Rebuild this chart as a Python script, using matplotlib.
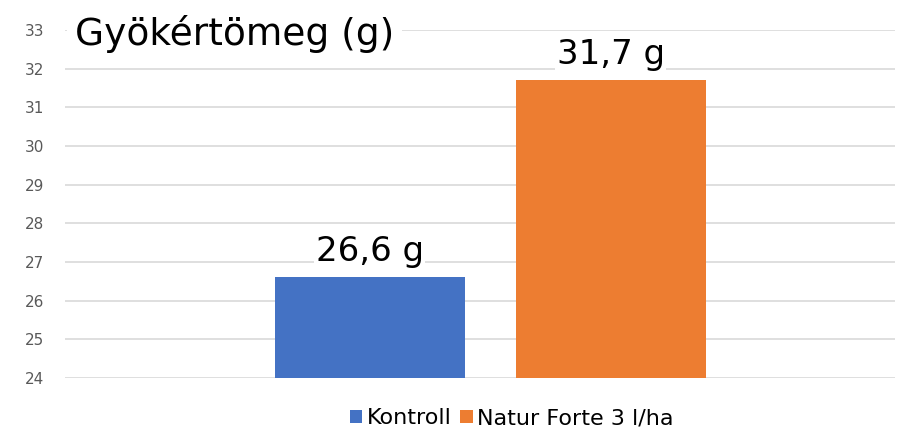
import numpy as np
import matplotlib
matplotlib.use('Agg')
import matplotlib.pyplot as plt
from matplotlib.patches import Patch

plt.rcParams['font.family'] = ['DejaVu Sans']

# Data
series = ['Kontroll', 'Natur Forte 3 l/ha']
values = [26.6, 31.7]
labels = ['26,6 g', '31,7 g']
colors = ['#4472C4', '#ED7D31']
yticks = list(range(24, 34))

fig = plt.figure(figsize=(9.01, 4.30), dpi=100)
ax = fig.add_axes([0.072, 0.121, 0.921, 0.809])

x = np.arange(len(series))
bars = ax.bar(x, [v - 24 for v in values], bottom=24, width=0.79, color=colors, zorder=3)

for b, lab in zip(bars, labels):
    ax.text(b.get_x() + b.get_width() / 2, b.get_y() + b.get_height() + 0.25, lab,
            ha='center', va='bottom', fontsize=24.5, color='black', zorder=4,
            bbox=dict(facecolor='white', edgecolor='none', pad=1))

ax.set_ylim(24, 33)
ax.set_xlim(-1.266, 2.178)
ax.set_yticks(yticks)
ax.set_yticklabels([str(t) for t in yticks], fontsize=11, color='#595959')
ax.set_xticks([])
ax.yaxis.grid(True, color='#d9d9d9', linewidth=1.2, zorder=0)
ax.tick_params(axis='y', length=0, pad=15)
for s in ax.spines.values():
    s.set_visible(False)

ax.text(0.012, 0.99, 'Gyökértömeg (g)', transform=ax.transAxes, ha='left', va='center',
        fontsize=27, color='black', zorder=5,
        bbox=dict(facecolor='white', edgecolor='none', pad=6))

handles = [Patch(facecolor=c, label=s) for c, s in zip(colors, series)]
fig.legend(handles=handles, loc='center', bbox_to_anchor=(0.568, 0.027), ncol=2, frameon=False,
           fontsize=16, handlelength=0.55, handleheight=0.55, handletextpad=0.2, columnspacing=0.4)

fig.savefig('out.png', dpi=100, facecolor='white')
